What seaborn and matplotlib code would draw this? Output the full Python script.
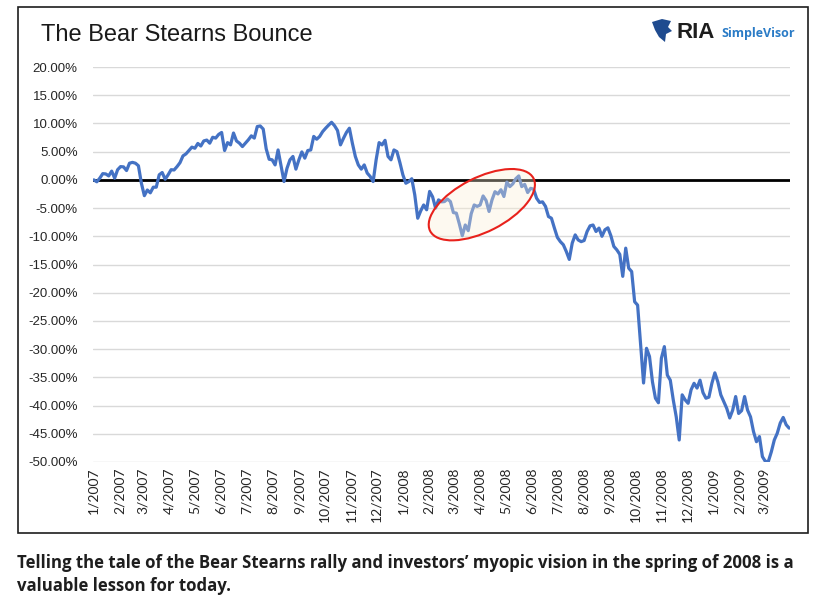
import pandas as pd
import numpy as np
import seaborn as sns
import matplotlib
matplotlib.use('Agg')
from matplotlib import pyplot as plt
from matplotlib.patches import Ellipse, Rectangle, Polygon
from matplotlib.ticker import FuncFormatter
import matplotlib.dates as mdates
import matplotlib.transforms as mtransforms

# Bear Stearns cumulative return (%), every ~3.5 days
pct = [
    0.0, -0.35, 0.3, 1.1, 1.05, 0.7, 1.55, 0.3, 1.8, 2.35,
    2.3, 1.65, 2.95, 3.1, 2.95, 2.5, -0.6, -2.8, -1.8, -2.3,
    -1.3, -1.3, 0.9, 1.3, 0.1, 0.9, 1.8, 1.75, 2.35, 3.05,
    4.25, 4.6, 5.2, 5.8, 5.6, 6.45, 6.0, 6.9, 7.05, 6.5,
    7.55, 7.4, 8.05, 8.4, 5.2, 6.6, 6.2, 8.3, 6.9, 6.5,
    5.9, 6.5, 7.1, 7.8, 7.4, 9.45, 9.55, 9.0, 5.5, 3.65,
    3.55, 2.65, 5.3, 2.55, -0.3, 2.05, 3.55, 4.15, 1.9, 3.55,
    4.95, 3.85, 5.2, 5.3, 7.7, 7.2, 7.7, 8.55, 9.15, 9.7,
    10.2, 9.6, 8.75, 6.2, 7.35, 8.4, 9.15, 6.5, 4.15, 2.65,
    1.9, 2.65, 1.2, 0.6, -0.3, 3.55, 6.6, 6.2, 7.0, 4.15,
    3.55, 5.3, 5.0, 3.05, 0.9, -0.6, -0.3, 0.2, -2.65, -6.8,
    -5.5, -4.45, -5.3, -2.05, -3.0, -5.0, -3.55, -3.9, -3.85, -3.4,
    -3.85, -5.8, -5.9, -7.8, -9.9, -8.0, -9.0, -6.0, -4.45, -4.7,
    -4.45, -2.85, -3.65, -5.6, -3.55, -2.1, -2.5, -1.75, -2.95, -0.4,
    -1.2, -0.7, 0.2, 0.7, -1.2, -0.8, -2.25, -1.5, -1.65, -3.25,
    -4.0, -3.9, -4.7, -6.5, -6.8, -8.55, -10.2, -10.95, -11.5, -12.7,
    -14.1, -11.2, -9.75, -10.65, -10.95, -10.75, -9.15, -8.15, -8.0, -9.15,
    -8.55, -10.0, -8.85, -8.5, -9.9, -11.8, -12.4, -13.2, -17.1, -12.1,
    -15.65, -16.25, -21.6, -22.2, -29.0, -36.0, -29.85, -31.3, -35.8, -38.7,
    -39.5, -31.6, -29.55, -34.6, -35.5, -39.0, -42.0, -46.1, -38.1, -39.0,
    -39.6, -37.2, -36.05, -36.9, -35.5, -37.7, -38.7, -38.5, -36.05, -34.2,
    -35.8, -38.1, -39.3, -40.5, -42.2, -40.8, -38.4, -41.4, -40.9, -38.4,
    -40.8, -42.0, -44.6, -46.4, -45.5, -49.05, -49.9, -49.9, -48.2, -46.1,
    -44.9, -43.1, -42.1, -43.4, -44.0,
]
dates = pd.date_range('2007-01-02', periods=len(pct), freq='84h')
month_ticks = pd.date_range('2007-01-01', '2009-03-01', freq='MS')
y_ticks = list(range(-50, 25, 5))

title = 'The Bear Stearns Bounce'
caption = ["Telling the tale of the Bear Stearns rally and investors\u2019 myopic vision in the spring of 2008 is a",
           "valuable lesson for today."]

df = pd.DataFrame({'date': dates, 'pct': pct})

sns.set_theme(style='white')
plt.rcParams['font.family'] = ['Liberation Sans', 'DejaVu Sans']

W, H = 821, 596
fig = plt.figure(figsize=(W / 100, H / 100), dpi=100)
fig.patch.set_facecolor('white')

def fx(px):
    return px / W

def fy(py):
    return 1 - py / H

ax = fig.add_axes([fx(93), fy(462), fx(790) - fx(93), fy(67) - fy(462)])
ax.set_facecolor('white')

for v in y_ticks:
    ax.axhline(v, color='#d9d9d9', lw=1.0, zorder=0)

sns.lineplot(data=df, x='date', y='pct', ax=ax, color='#4472C4', linewidth=2.3, zorder=3)
ax.axhline(0, color='black', lw=2.0, zorder=2)

ax.set_xlim(pd.Timestamp('2007-01-02'), pd.Timestamp('2009-04-01'))
ax.set_ylim(-50, 20)
ax.set_yticks(y_ticks)
ax.yaxis.set_major_formatter(FuncFormatter(lambda v, p: f'{v:.2f}%'))
ax.set_xticks(month_ticks)
ax.set_xticklabels([f'{d.month}/{d.year}' for d in month_ticks], rotation=90,
                   fontsize=10, family=['Lato', 'DejaVu Sans'], color='#262626')
ax.tick_params(axis='y', labelsize=9.5, pad=11, length=0, colors='#262626')
ax.tick_params(axis='x', pad=4, length=0)
ax.set_xlabel('')
ax.set_ylabel('')
for s in ax.spines.values():
    s.set_visible(False)

# red ellipse around the spring 2008 rally
cx = mdates.date2num(pd.Timestamp('2008-04-03'))
trans = fig.dpi_scale_trans + mtransforms.ScaledTranslation(cx, -4.4, ax.transData)
ell = Ellipse((0, 0), width=1.16, height=0.54, angle=27, transform=trans,
              facecolor=(0.99, 0.94, 0.84, 0.35), edgecolor='#e8221c', lw=1.5, zorder=4)
ax.add_artist(ell)

# frame around the chart
fig.patches.append(Rectangle((fx(17.5), fy(533)), fx(807.5) - fx(17.5), fy(7) - fy(533),
                             transform=fig.transFigure, fill=False, edgecolor='#1e1e1e', lw=1.2))

fig.text(fx(41), fy(41), title, fontsize=17, color='#1a1a1a', va='baseline', ha='left')

# logo
icon = [(652, 22), (662, 19), (671, 21), (668, 27), (672, 31), (666, 34), (665, 42), (659, 37), (655, 30)]
fig.patches.append(Polygon([(fx(a), fy(b)) for a, b in icon], closed=True,
                           transform=fig.transFigure, facecolor='#1f4b8f', edgecolor='none'))
fig.text(fx(676), fy(38.5), 'RIA', fontsize=16, weight='bold', color='#1d1d1d', va='baseline', ha='left',
         family=['Liberation Sans', 'DejaVu Sans'])
fig.text(fx(721), fy(37.5), 'SimpleVisor', fontsize=9.0, weight='bold', color='#2a7bc6',
         va='baseline', ha='left', family=['Open Sans', 'DejaVu Sans'])

fig.text(fx(17), fy(568), caption[0], fontsize=12.1, weight='bold', color='#1e1e1e',
         va='baseline', ha='left', family=['Open Sans', 'DejaVu Sans'])
fig.text(fx(17), fy(591), caption[1], fontsize=12.1, weight='bold', color='#1e1e1e',
         va='baseline', ha='left', family=['Open Sans', 'DejaVu Sans'])

fig.savefig('out.png', dpi=100)
